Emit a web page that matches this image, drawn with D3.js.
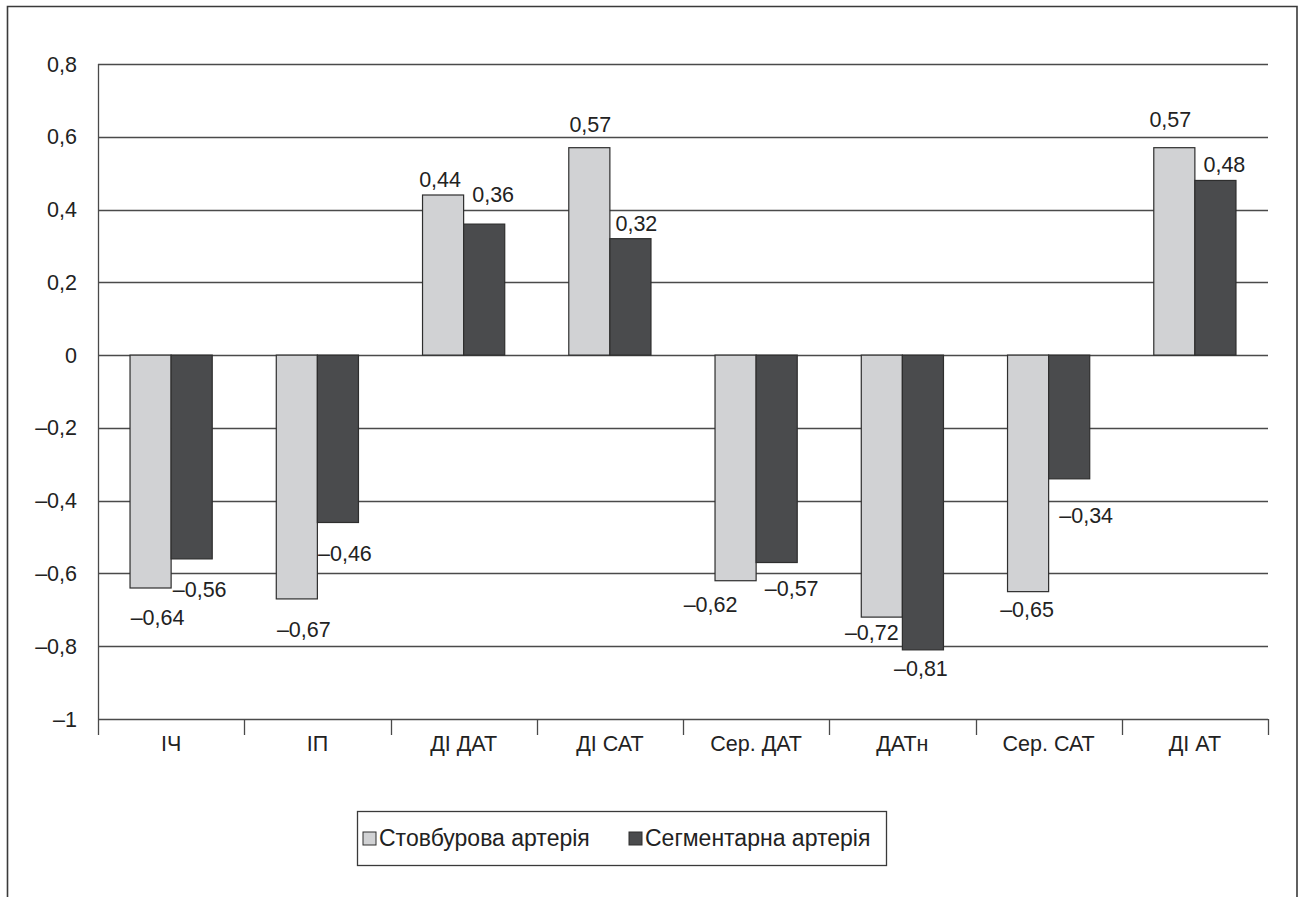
<!DOCTYPE html>
<html>
<head>
<meta charset="utf-8">
<script src="https://cdn.jsdelivr.net/npm/d3@7"></script>
<style>
  html, body { margin: 0; padding: 0; background: #fff; }
  svg { display: block; font-family: "Liberation Sans", Arial, sans-serif; }
</style>
</head>
<body>
<svg id="chart" width="1299" height="897"></svg>
<script>
// Correlation coefficients of Doppler indices with blood pressure parameters
const categories = ["ІЧ", "ІП", "ДІ ДАТ", "ДІ САТ", "Сер. ДАТ", "ДАТн", "Сер. САТ", "ДІ АТ"];
const seriesNames = ["Стовбурова артерія", "Сегментарна артерія"];
const trunkValues = [-0.64, -0.67, 0.44, 0.57, -0.62, -0.72, -0.65, 0.57];
const segmentValues = [-0.56, -0.46, 0.36, 0.32, -0.57, -0.81, -0.34, 0.48];
const yTicks = [0.8, 0.6, 0.4, 0.2, 0, -0.2, -0.4, -0.6, -0.8, -1];

// Label offsets from the bar end (dx from bar centre, dy to the text baseline)
const trunkLabelShift = [[7, 37], [7, 38], [-3, -8], [1, -16], [-25, 31], [-10, 23], [-1, 25], [-4, -21]];
const segmentLabelShift = [[8, 38], [7, 38], [9, -22], [6, -8], [15, 33], [-2, 26], [17, 44], [9, -8]];

const colors = ["#d1d2d4", "#4a4b4d"];
const ink = "#3a3a3a";
const fs = 21.5;
const fmt = v => (v < 0 ? "–" : "") + String(Math.abs(v)).replace(".", ",");

const svg = d3.select("#chart");
const margin = { left: 98, right: 1268, top: 64, bottom: 719 };

const x0 = d3.scaleBand().domain(categories).range([margin.left, margin.right]).padding(0);
const bw = x0.bandwidth();
const x1 = d3.scaleBand().domain(seriesNames).range([bw * 0.219, bw * 0.781]).padding(0);
const y = d3.scaleLinear().domain([-1, 0.8]).range([margin.bottom, margin.top]);

// outer frame
svg.append("path")
  .attr("d", "M7.5,897 V6.5 H1297 V897")
  .attr("fill", "none").attr("stroke", ink).attr("stroke-width", 1.6);

// horizontal gridlines
svg.append("g").selectAll("line").data(yTicks).join("line")
  .attr("x1", margin.left).attr("x2", margin.right)
  .attr("y1", d => Math.round(y(d)) + 0.5).attr("y2", d => Math.round(y(d)) + 0.5)
  .attr("stroke", "#4a4a4a").attr("stroke-width", 1.3);

// y axis labels
svg.append("g").selectAll("text").data(yTicks).join("text")
  .attr("x", 77).attr("y", d => y(d)).attr("dy", "0.35em")
  .attr("text-anchor", "end").attr("font-size", fs).attr("fill", "#222")
  .text(d => d === 0 ? "0" : fmt(d));

// bars
const rows = categories.map((c, i) => ({ c, i, vals: [trunkValues[i], segmentValues[i]] }));
const groups = svg.append("g").selectAll("g").data(rows).join("g")
  .attr("transform", d => `translate(${x0(d.c)},0)`);

groups.selectAll("rect").data(d => d.vals.map((v, k) => ({ v, k, i: d.i }))).join("rect")
  .attr("x", d => x1(seriesNames[d.k]))
  .attr("width", x1.bandwidth())
  .attr("y", d => Math.min(y(d.v), y(0)))
  .attr("height", d => Math.abs(y(d.v) - y(0)))
  .attr("fill", d => colors[d.k])
  .attr("stroke", "#2e2e2e").attr("stroke-width", 1.2);

// value labels
const shifts = [trunkLabelShift, segmentLabelShift];
groups.selectAll("text.val").data(d => d.vals.map((v, k) => ({ v, k, i: d.i }))).join("text")
  .attr("class", "val")
  .attr("x", d => x1(seriesNames[d.k]) + x1.bandwidth() / 2 + shifts[d.k][d.i][0])
  .attr("y", d => y(d.v) + shifts[d.k][d.i][1])
  .attr("text-anchor", "middle").attr("font-size", fs).attr("fill", "#222")
  .text(d => fmt(d.v));

// y axis line and category ticks
svg.append("line")
  .attr("x1", margin.left + 0.5).attr("x2", margin.left + 0.5)
  .attr("y1", margin.top).attr("y2", margin.bottom + 16)
  .attr("stroke", "#4a4a4a").attr("stroke-width", 1.3);
const boundaries = categories.map(c => x0(c)).concat([margin.right]);
svg.append("g").selectAll("line").data(boundaries.slice(1)).join("line")
  .attr("x1", d => Math.round(d) + 0.5).attr("x2", d => Math.round(d) + 0.5)
  .attr("y1", margin.bottom).attr("y2", margin.bottom + 16)
  .attr("stroke", "#4a4a4a").attr("stroke-width", 1.3);

// category labels
svg.append("g").selectAll("text").data(categories).join("text")
  .attr("x", d => x0(d) + bw / 2).attr("y", 751)
  .attr("text-anchor", "middle").attr("font-size", fs).attr("fill", "#222")
  .text(d => d);

// legend
const lg = svg.append("g").attr("transform", "translate(357,811)");
lg.append("rect").attr("x", 0.5).attr("y", 0.5).attr("width", 529).attr("height", 54)
  .attr("fill", "#fff").attr("stroke", ink).attr("stroke-width", 1.3);
const legendX = [6, 272];
seriesNames.forEach((name, k) => {
  lg.append("rect").attr("x", legendX[k]).attr("y", 21).attr("width", 13).attr("height", 13)
    .attr("fill", colors[k]).attr("stroke", "#2e2e2e").attr("stroke-width", 1);
  lg.append("text").attr("x", legendX[k] + 16).attr("y", 35)
    .attr("font-size", 23).attr("fill", "#222").text(name);
});
</script>
</body>
</html>
